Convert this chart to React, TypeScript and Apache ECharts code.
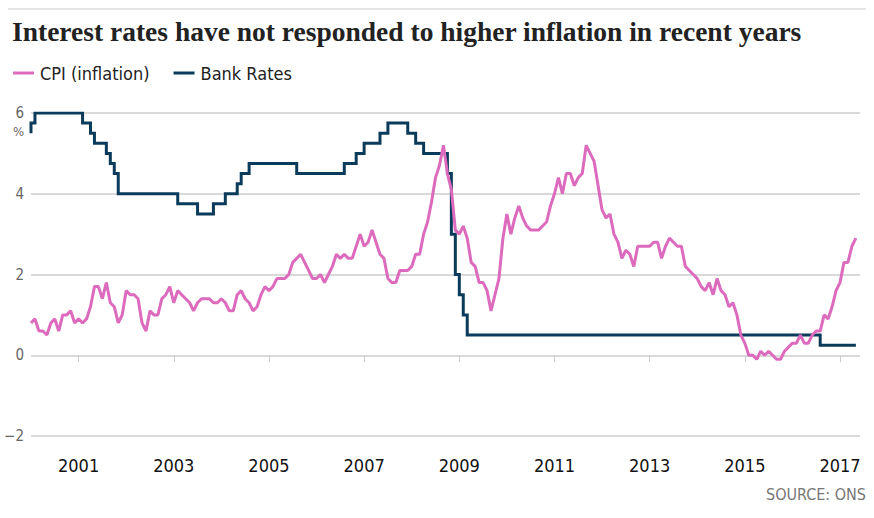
import React, { useEffect, useRef } from "react";
import * as echarts from "echarts";

const TITLE = "Interest rates have not responded to higher inflation in recent years";
const SOURCE = "SOURCE: ONS";
const START_YEAR = 2000;

// UK CPI annual rate, monthly from Jan 2000 to May 2017
const cpi2000 = [0.8, 0.9, 0.6, 0.6, 0.5, 0.8, 0.9, 0.6, 1.0, 1.0, 1.1, 0.8];
const cpi2001 = [0.9, 0.8, 0.9, 1.2, 1.7, 1.7, 1.4, 1.8, 1.3, 1.2, 0.8, 1.0];
const cpi2002 = [1.6, 1.5, 1.5, 1.4, 0.8, 0.6, 1.1, 1.0, 1.0, 1.4, 1.5, 1.7];
const cpi2003 = [1.3, 1.6, 1.5, 1.4, 1.3, 1.1, 1.3, 1.4, 1.4, 1.4, 1.3, 1.3];
const cpi2004 = [1.4, 1.3, 1.1, 1.1, 1.5, 1.6, 1.4, 1.3, 1.1, 1.2, 1.5, 1.7];
const cpi2005 = [1.6, 1.7, 1.9, 1.9, 1.9, 2.0, 2.3, 2.4, 2.5, 2.3, 2.1, 1.9];
const cpi2006 = [1.9, 2.0, 1.8, 2.0, 2.2, 2.5, 2.4, 2.5, 2.4, 2.4, 2.7, 3.0];
const cpi2007 = [2.7, 2.8, 3.1, 2.8, 2.5, 2.4, 1.9, 1.8, 1.8, 2.1, 2.1, 2.1];
const cpi2008 = [2.2, 2.5, 2.5, 3.0, 3.3, 3.8, 4.4, 4.7, 5.2, 4.5, 4.1, 3.1];
const cpi2009 = [3.0, 3.2, 2.9, 2.3, 2.2, 1.8, 1.8, 1.6, 1.1, 1.5, 1.9, 2.9];
const cpi2010 = [3.5, 3.0, 3.4, 3.7, 3.4, 3.2, 3.1, 3.1, 3.1, 3.2, 3.3, 3.7];
const cpi2011 = [4.0, 4.4, 4.0, 4.5, 4.5, 4.2, 4.4, 4.5, 5.2, 5.0, 4.8, 4.2];
const cpi2012 = [3.6, 3.4, 3.5, 3.0, 2.8, 2.4, 2.6, 2.5, 2.2, 2.7, 2.7, 2.7];
const cpi2013 = [2.7, 2.8, 2.8, 2.4, 2.7, 2.9, 2.8, 2.7, 2.7, 2.2, 2.1, 2.0];
const cpi2014 = [1.9, 1.7, 1.6, 1.8, 1.5, 1.9, 1.6, 1.5, 1.2, 1.3, 1.0, 0.5];
const cpi2015 = [0.3, 0.0, 0.0, -0.1, 0.1, 0.0, 0.1, 0.0, -0.1, -0.1, 0.1, 0.2];
const cpi2016 = [0.3, 0.3, 0.5, 0.3, 0.3, 0.5, 0.6, 0.6, 1.0, 0.9, 1.2, 1.6];
const cpi2017 = [1.8, 2.3, 2.3, 2.7, 2.9];

const cpiValues = [
  ...cpi2000, ...cpi2001, ...cpi2002, ...cpi2003, ...cpi2004, ...cpi2005,
  ...cpi2006, ...cpi2007, ...cpi2008, ...cpi2009, ...cpi2010, ...cpi2011,
  ...cpi2012, ...cpi2013, ...cpi2014, ...cpi2015, ...cpi2016, ...cpi2017,
];

// Bank Rate: month of each change ("YYYY-MM") and the new rate
const bankMonths = [
  "2000-01", "2000-01", "2000-02", "2001-02", "2001-04", "2001-05", "2001-08",
  "2001-09", "2001-10", "2001-11", "2003-02", "2003-07", "2003-11", "2004-02",
  "2004-05", "2004-06", "2004-08", "2005-08", "2006-08", "2006-11", "2007-01",
  "2007-05", "2007-07", "2007-12", "2008-02", "2008-04", "2008-10", "2008-11",
  "2008-12", "2009-01", "2009-02", "2009-03", "2016-08", "2017-05",
];
const bankRates = [
  5.5, 5.75, 6.0, 5.75, 5.5, 5.25, 5.0,
  4.75, 4.5, 4.0, 3.75, 3.5, 3.75, 4.0,
  4.25, 4.5, 4.75, 4.5, 4.75, 5.0, 5.25,
  5.5, 5.75, 5.5, 5.25, 5.0, 4.5, 3.0,
  2.0, 1.5, 1.0, 0.5, 0.25, 0.25,
];

const xTickYears = [2001, 2003, 2005, 2007, 2009, 2011, 2013, 2015, 2017];

const monthToX = (s: string) => {
  const [y, m] = s.split("-").map(Number);
  return y + (m - 1) / 12;
};

const SANS = "'Liberation Sans Narrow', 'DejaVu Sans Condensed', 'Roboto', sans-serif";

export default function App() {
  const ref = useRef<HTMLDivElement>(null);

  useEffect(() => {
    document.body.style.margin = "0";
    if (!ref.current) return;
    const chart = echarts.init(ref.current, null, { renderer: "svg" });

    const cpiData = cpiValues.map((v, i) => [START_YEAR + i / 12, v]);
    const bankData = bankMonths.map((m, i) => [monthToX(m), bankRates[i]]);

    chart.setOption({
      animation: false,
      backgroundColor: "#ffffff",
      title: {
        text: TITLE,
        left: 7,
        top: 12,
        textStyle: {
          fontFamily: "'Liberation Serif', serif",
          fontWeight: "bold",
          fontSize: 27.5,
          color: "#222222",
        },
      },
      legend: {
        left: 8,
        top: 59,
        icon: "rect",
        itemWidth: 21,
        itemHeight: 3,
        itemGap: 24,
        data: ["CPI (inflation)", "Bank Rates"],
        textStyle: { fontFamily: SANS, fontSize: 18, color: "#222222", padding: [0, 0, 0, 1] },
      },
      grid: { left: 31, right: 14, top: 113, bottom: 82 },
      xAxis: {
        type: "value",
        min: 2000,
        max: 2017.42,
        axisLine: { show: false },
        splitLine: { show: false },
        axisTick: {
          show: true,
          customValues: xTickYears,
          length: 7,
          lineStyle: { color: "#cccccc", width: 1 },
        },
        axisLabel: {
          customValues: xTickYears,
          formatter: (v: number) => String(Math.round(v)),
          margin: 20,
          fontFamily: SANS,
          fontSize: 18,
          color: "#111111",
        },
      },
      yAxis: {
        type: "value",
        min: -2,
        max: 6,
        interval: 2,
        axisLine: { show: false },
        axisTick: { show: false },
        axisLabel: {
          formatter: (v: number) => (v < 0 ? "\u2212" + Math.abs(v) : String(v)),
          margin: 7,
          fontFamily: SANS,
          fontSize: 15,
          color: "#666666",
        },
        splitLine: { lineStyle: { color: "#d9d9d9", width: 2 } },
      },
      graphic: [
        {
          type: "line",
          shape: { x1: 8, y1: 9, x2: 866, y2: 9 },
          style: { stroke: "#dddddd", lineWidth: 1.5 },
        },
        {
          type: "text",
          x: 24,
          y: 131,
          style: {
            text: "%",
            fontFamily: SANS,
            fontSize: 13,
            fill: "#666666",
            textAlign: "right",
            textVerticalAlign: "middle",
          },
        },
        {
          type: "text",
          x: 866,
          y: 494,
          style: {
            text: SOURCE,
            fontFamily: SANS,
            fontSize: 16,
            fill: "#777777",
            textAlign: "right",
            textVerticalAlign: "middle",
          },
        },
      ],
      series: [
        {
          name: "Bank Rates",
          type: "line",
          step: "end",
          data: bankData,
          showSymbol: false,
          symbol: "none",
          lineStyle: { color: "#0b3b5b", width: 3, join: "miter" },
          itemStyle: { color: "#0b3b5b" },
          z: 2,
        },
        {
          name: "CPI (inflation)",
          type: "line",
          data: cpiData,
          showSymbol: false,
          symbol: "none",
          lineStyle: { color: "#dc6abd", width: 3 },
          itemStyle: { color: "#dc6abd" },
          z: 3,
        },
      ],
    });

    return () => chart.dispose();
  }, []);

  return <div ref={ref} style={{ width: 874, height: 518 }} />;
}
